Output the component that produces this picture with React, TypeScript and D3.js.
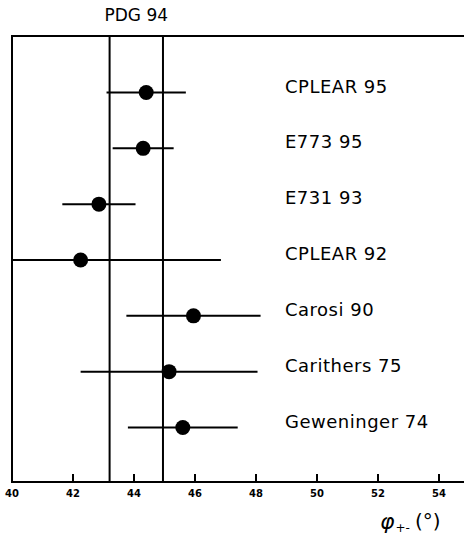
import { useMemo } from "react";
import * as d3 from "d3";

const WIDTH = 464;
const HEIGHT = 536;

// measurements of phi+- (degrees)
const experiments = [
  "CPLEAR 95",
  "E773 95",
  "E731 93",
  "CPLEAR 92",
  "Carosi 90",
  "Carithers 75",
  "Geweninger 74",
];
const values = [44.4, 44.3, 42.85, 42.25, 45.95, 45.15, 45.6];
const errors = [1.3, 1.0, 1.2, 4.6, 2.2, 2.9, 1.8];

// PDG 94 band edges
const pdgBand = [43.2, 44.95];
const pdgLabel = "PDG 94";

const xTicks = [40, 42, 44, 46, 48, 50, 52, 54];

const LEFT = 12;
const TOP = 36;
const BOTTOM = 482;

export default function App() {
  const x = useMemo(
    () => d3.scaleLinear().domain([40, 55]).range([LEFT, LEFT + 15 * 30.5]),
    []
  );
  const y = useMemo(
    () => d3.scalePoint<string>().domain(experiments).range([92.5, 427.5]),
    []
  );

  const font = "'DejaVu Sans', sans-serif";

  return (
    <svg
      width={WIDTH}
      height={HEIGHT}
      style={{ position: "absolute", left: 0, top: 0, background: "#fff" }}
    >
      {/* frame */}
      <line x1={LEFT} x2={WIDTH} y1={TOP} y2={TOP} stroke="#000" strokeWidth={2} />
      <line x1={LEFT} x2={WIDTH} y1={BOTTOM} y2={BOTTOM} stroke="#000" strokeWidth={2} />
      <line x1={LEFT} x2={LEFT} y1={TOP - 1} y2={BOTTOM + 1} stroke="#000" strokeWidth={2} />

      {/* PDG band */}
      {pdgBand.map((v, i) => (
        <line key={i} x1={x(v)} x2={x(v)} y1={TOP} y2={BOTTOM} stroke="#000" strokeWidth={2} />
      ))}
      <text
        x={(x(pdgBand[0]) + x(pdgBand[1])) / 2}
        y={21}
        textAnchor="middle"
        fontFamily={font}
        fontSize={17}
      >
        {pdgLabel}
      </text>

      {/* ticks */}
      {xTicks.map((t) => (
        <g key={t}>
          {t > 40 && (
            <line x1={x(t)} x2={x(t)} y1={BOTTOM} y2={BOTTOM - 8} stroke="#000" strokeWidth={2} />
          )}
          <text
            x={x(t)}
            y={497}
            textAnchor="middle"
            fontFamily={font}
            fontWeight="bold"
            fontSize={10}
          >
            {t}
          </text>
        </g>
      ))}

      {/* measurements */}
      {experiments.map((name, i) => {
        const cy = y(name)!;
        const lo = Math.max(40, values[i] - errors[i]);
        const hi = values[i] + errors[i];
        return (
          <g key={name}>
            <line x1={x(lo)} x2={x(hi)} y1={cy} y2={cy} stroke="#000" strokeWidth={2} />
            <circle cx={x(values[i])} cy={cy} r={7.5} fill="#000" />
            <text x={285} y={cy} fontFamily={font} fontSize={18} letterSpacing={0.5}>
              {name}
            </text>
          </g>
        );
      })}

      {/* axis title */}
      <text x={380} y={529} fontFamily={font} fontSize={22} fontStyle="italic">
        φ
        <tspan fontSize={12} fontStyle="normal" dx={1} dy={3}>
          +-
        </tspan>
        <tspan fontSize={20} fontStyle="normal" dx={5} dy={-4}>
          (°)
        </tspan>
      </text>
    </svg>
  );
}
